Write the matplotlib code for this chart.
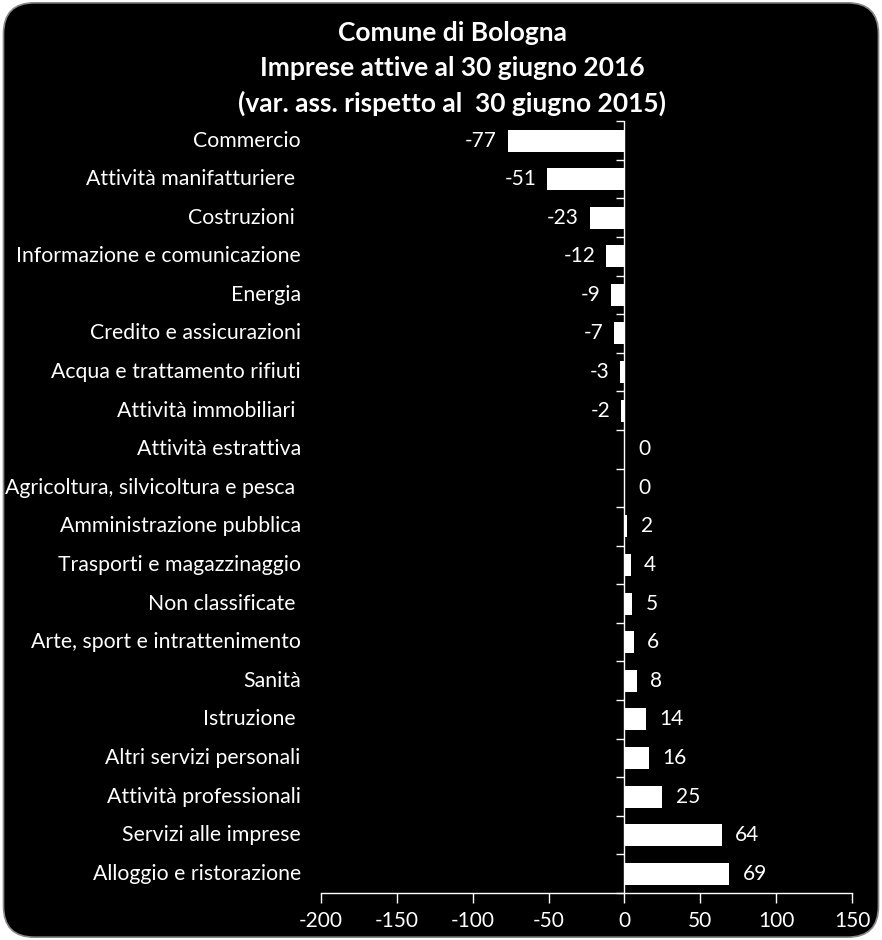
import matplotlib
matplotlib.use("Agg")
import matplotlib.pyplot as plt
from matplotlib.patches import FancyBboxPatch
from matplotlib.lines import TICKLEFT
import numpy as np

categories = [
    "Commercio",
    "Attività manifatturiere ",
    "Costruzioni ",
    "Informazione e comunicazione",
    "Energia",
    "Credito e assicurazioni",
    "Acqua e trattamento rifiuti",
    "Attività immobiliari ",
    "Attività estrattiva",
    "Agricoltura, silvicoltura e pesca ",
    "Amministrazione pubblica",
    "Trasporti e magazzinaggio",
    "Non classificate ",
    "Arte, sport e intrattenimento",
    "Sanità",
    "Istruzione ",
    "Altri servizi personali",
    "Attività professionali",
    "Servizi alle imprese",
    "Alloggio e ristorazione",
]
values = [-77, -51, -23, -12, -9, -7, -3, -2, 0, 0, 2, 4, 5, 6, 8, 14, 16, 25, 64, 69]
x_ticks = [-200, -150, -100, -50, 0, 50, 100, 150]

title_lines = [
    "Comune di Bologna",
    "Imprese attive al 30 giugno 2016",
    "(var. ass. rispetto al  30 giugno 2015)",
]

plt.rcParams["font.family"] = ["Lato", "DejaVu Sans"]
FG = "white"

fig = plt.figure(figsize=(8.82, 9.40), dpi=100, facecolor="white")
bg = FancyBboxPatch((0.004, 0.003), 0.992, 0.994, boxstyle="round,pad=0,rounding_size=0.035",
                    transform=fig.transFigure, facecolor="black", edgecolor="#888888",
                    linewidth=1.2, mutation_aspect=882 / 940, zorder=-5)
fig.patches.append(bg)

ax = fig.add_axes([0.364, 0.05, 0.602, 0.821])
ax.set_facecolor("none")
ax.set_zorder(2)

y = np.arange(len(categories))
ax.barh(y, values, height=0.57, color=FG, edgecolor="none", zorder=3)
ax.set_ylim(len(categories) - 0.5, -0.5)
ax.set_xlim(-200, 150)

# vertical axis line at zero with small ticks between categories
ax.axvline(0, color=FG, linewidth=1.0, zorder=4)
bounds = np.arange(len(categories) + 1) - 0.5
ax.plot(np.zeros_like(bounds), bounds, ls="none", marker=TICKLEFT, markersize=6,
        markeredgecolor=FG, markeredgewidth=1.0, clip_on=False, zorder=4)

for s in ["left", "right", "top"]:
    ax.spines[s].set_visible(False)
ax.spines["bottom"].set_color(FG)
ax.spines["bottom"].set_linewidth(1.0)
ax.set_yticks([])
ax.set_xticks(x_ticks)
ax.set_xticklabels([str(t) for t in x_ticks])
ax.tick_params(axis="x", colors=FG, labelcolor=FG, labelsize=15, length=7, width=1.0, pad=6)

trans = ax.get_yaxis_transform()
for yi, cat in zip(y, categories):
    ax.text(-0.038, yi, cat, transform=trans, ha="right", va="center",
            color=FG, fontsize=15.3)

for yi, v in zip(y, values):
    if v < 0:
        ax.text(v - 7, yi, str(v), ha="right", va="center", color=FG, fontsize=15)
    else:
        ax.text(v + 9, yi, str(v), ha="left", va="center", color=FG, fontsize=15)

for i, line in enumerate(title_lines):
    fig.text(0.513, 0.965 - i * 0.0375, line, ha="center", va="center",
             color=FG, fontsize=19, fontweight="bold")

fig.savefig("out.png", dpi=100, facecolor=fig.get_facecolor())
